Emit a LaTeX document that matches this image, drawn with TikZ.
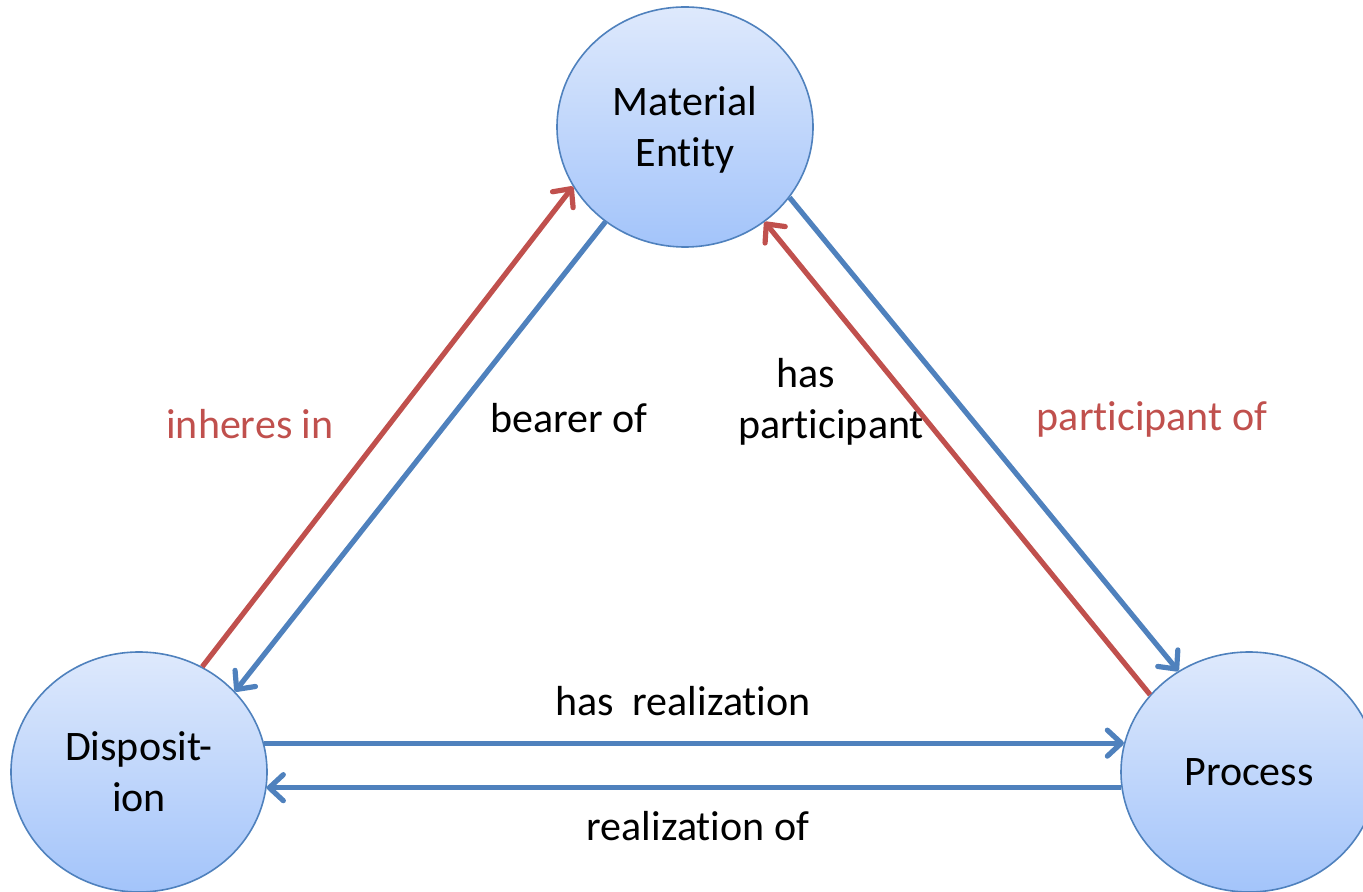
\documentclass[tikz,border=0pt]{standalone}
\usepackage{fontspec}
\setmainfont{Carlito}[Ligatures=NoCommon]
\usetikzlibrary{arrows.meta,shapes.geometric}
\definecolor{lnblue}{RGB}{79,129,189}
\definecolor{lnred}{RGB}{192,80,77}
\definecolor{fltop}{RGB}{222,233,252}
\definecolor{flbot}{RGB}{163,196,250}

\begin{document}
\begin{tikzpicture}[x=0.5pt, y=-0.5pt,
    klass/.style={ellipse, draw=lnblue, line width=0.8pt,
                  top color=fltop, bottom color=flbot,
                  minimum width=128pt, minimum height=120pt, inner sep=2pt,
                  align=center, font=\fontsize{21}{25.5}\selectfont},
    rel/.style={font=\fontsize{21}{25.5}\selectfont, inner sep=0pt},
    a/.style={-{Straight Barb[length=7pt,width=13pt,line cap=round,round]},
              line width=2.6pt, lnblue},
    ar/.style={a, lnred}
  ]
  \useasboundingbox (0,0) rectangle (1363,892);
  \clip (0,0) rectangle (1363,892);

  % classes
  \node[klass, text height=42.5pt] (mat) at (685,127) {Material\\ Entity};
  \node[klass] (disp) at (139,772) {Disposit-\\ ion};
  \node[klass] (proc) at (1249,772) {Process};

  % left side
  \draw[ar] (disp.59) -- (mat.208);
  \draw[a] (mat.230) -- (disp.40);
  \node[rel, anchor=base, lnred] (inh) at (250,438) {inheres in};
  \node[rel, anchor=base] (bear) at (569,432) {bearer of};

  % right side
  \draw[a] (mat.326) -- (proc.125);
  \draw[ar] (proc.142) -- (mat.310);
  \node[rel, align=center] (hpart) at (831,402) {has\hspace*{25pt}\\ participant};
  \node[rel, anchor=base, lnred] (partof) at (1152,430) {participant of};

  % bottom
  \draw[a] (disp.13) -- (proc.167);
  \draw[a] (proc.187) -- (disp.353);
  \node[rel, anchor=base] (hreal) at (683,715) {has\ \ realization};
  \node[rel, anchor=base] (realof) at (698,840) {realization of};
\end{tikzpicture}
\end{document}
